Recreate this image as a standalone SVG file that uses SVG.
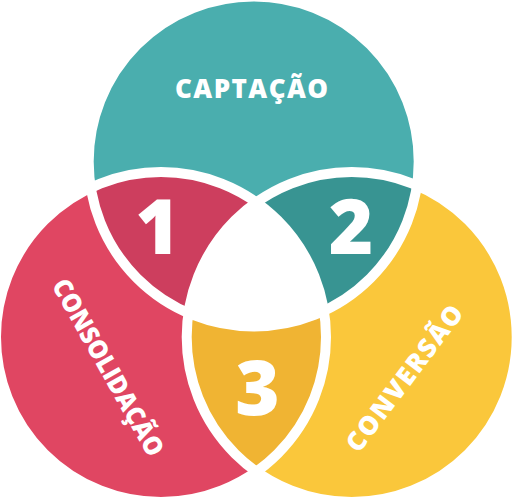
<svg xmlns="http://www.w3.org/2000/svg" width="512" height="498" viewBox="0 0 512 498">
<style>
.lbl{font-family:"Open Sans","DejaVu Sans",sans-serif;font-weight:800;fill:#fff;font-size:26px;text-anchor:middle}
.num{font-family:"Open Sans","DejaVu Sans",sans-serif;font-weight:800;fill:#fff;font-size:76px;text-anchor:middle}
.ring{fill:none;stroke:#fff;stroke-width:10}
</style>
<defs>
<clipPath id="cT"><circle cx="253.7" cy="161.5" r="165"/></clipPath>
<clipPath id="cL"><circle cx="161" cy="337" r="165"/></clipPath>
<clipPath id="cR"><circle cx="351.7" cy="337" r="165"/></clipPath>
</defs>
<rect width="512" height="498" fill="#fff"/>
<g id="captacao"><circle cx="253.7" cy="161.5" r="165" fill="#4aaeae"/></g>
<g id="consolidacao"><circle cx="161" cy="337" r="165" fill="#e04662"/></g>
<g id="conversao"><circle cx="351.7" cy="337" r="165" fill="#fac73b"/></g>
<g id="region1"><circle cx="161" cy="337" r="165" fill="#cd3e5e" clip-path="url(#cT)"/></g>
<g id="region2"><circle cx="351.7" cy="337" r="165" fill="#389492" clip-path="url(#cT)"/></g>
<g id="region3"><circle cx="351.7" cy="337" r="165" fill="#f0b433" clip-path="url(#cL)"/></g>
<g id="center" clip-path="url(#cL)"><circle cx="253.7" cy="161.5" r="165" fill="#fff" clip-path="url(#cR)"/></g>
<g id="outlines">
<circle class="ring" cx="253.7" cy="161.5" r="165"/>
<circle class="ring" cx="161" cy="337" r="165"/>
<circle class="ring" cx="351.7" cy="337" r="165"/>
</g>
<g id="labels">
<text class="lbl" x="251.5" y="97.5" textLength="153" lengthAdjust="spacing">CAPTAÇÃO</text>
<text class="lbl" transform="translate(108,367.5) rotate(60.5)" x="0" y="9" textLength="199" lengthAdjust="spacingAndGlyphs">CONSOLIDAÇÃO</text>
<text class="lbl" transform="translate(404.5,378.3) rotate(-53)" x="0" y="9" textLength="176" lengthAdjust="spacing">CONVERSÃO</text>
<text class="num" x="157.5" y="254">1</text>
<text class="num" x="351" y="254">2</text>
<text class="num" x="257.5" y="415">3</text>
</g>
</svg>
